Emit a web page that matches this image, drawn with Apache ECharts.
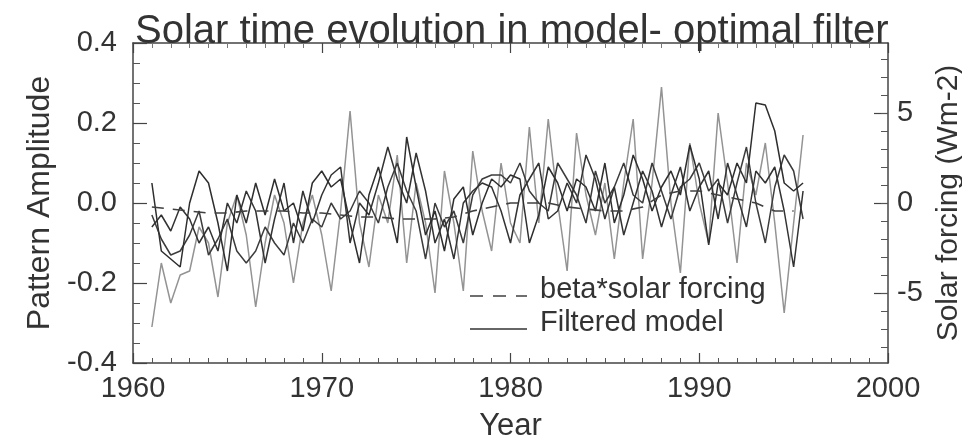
<!DOCTYPE html>
<html>
<head>
<meta charset="utf-8">
<script src="https://cdn.jsdelivr.net/npm/echarts@6/dist/echarts.min.js"></script>
<style>
  html, body { margin: 0; padding: 0; background: #fff; }
  #chart { width: 962px; height: 445px; }
</style>
</head>
<body>
<div id="chart"></div>
<script>
// Half-yearly time points, 1961.0 .. 1995.5
const times = Array.from({ length: 70 }, (_, i) => 1961 + i / 2);

// Filtered model runs (pattern amplitude)
const runGray = [
  -0.31, -0.15, -0.25, -0.18, -0.17, -0.06, -0.10, -0.235, -0.05, 0.02,
  -0.08, -0.26, -0.10, 0.02, -0.05, -0.20, -0.05, 0.02, -0.08, -0.22,
  -0.02, 0.23, -0.05, -0.16, 0.02, -0.05, 0.12, -0.15, 0.05, -0.05,
  -0.225, 0.08, -0.05, -0.22, 0.13, -0.02, -0.12, 0.10, -0.05, -0.10,
  0.19, -0.05, 0.21, 0.00, -0.17, 0.175, 0.02, -0.08, 0.05, -0.14,
  0.05, 0.21, -0.14, 0.05, 0.29, 0.00, -0.175, 0.15, 0.00, -0.10,
  0.225, 0.05, -0.15, 0.10, 0.02, 0.15, -0.05, -0.275, -0.05, 0.17
];
const runA = [
  0.05, -0.12, -0.14, -0.16, 0.00, 0.08, 0.05, -0.05, -0.17, 0.02,
  -0.05, 0.05, -0.03, 0.06, -0.02, 0.00, -0.07, 0.05, 0.08, 0.04,
  0.06, -0.05, -0.15, 0.02, 0.09, 0.00, -0.10, 0.165, 0.04, -0.08,
  -0.02, -0.12, 0.01, 0.04, -0.08, 0.00, 0.06, 0.04, 0.07, 0.06,
  -0.10, -0.03, 0.09, 0.05, -0.02, 0.06, 0.04, -0.02, 0.10, -0.05,
  0.02, 0.12, 0.06, -0.02, 0.04, 0.08, 0.02, 0.145, 0.06, -0.105,
  0.05, 0.02, 0.10, 0.05, 0.25, 0.245, 0.18, 0.05, 0.03, 0.05
];
const runB = [
  -0.06, -0.03, -0.07, -0.01, -0.04, -0.10, -0.06, -0.12, 0.00, -0.05,
  0.03, -0.02, -0.15, -0.04, 0.05, -0.10, 0.03, -0.05, 0.02, 0.07,
  0.09, -0.10, 0.00, -0.03, 0.05, 0.14, 0.06, 0.00, 0.125, 0.03,
  -0.10, -0.04, -0.14, 0.00, 0.03, 0.05, 0.04, -0.02, -0.10, 0.02,
  0.06, 0.10, -0.04, -0.02, 0.05, 0.00, 0.12, 0.06, -0.04, 0.04,
  -0.08, 0.00, 0.08, 0.03, -0.06, 0.02, 0.09, -0.02, 0.04, 0.08,
  -0.04, 0.10, 0.02, -0.06, 0.08, 0.05, 0.09, -0.02, -0.16, 0.03
];
const runC = [
  -0.03, -0.09, -0.13, -0.12, -0.08, -0.02, -0.13, -0.09, -0.04, -0.12,
  -0.15, -0.12, -0.06, -0.10, -0.13, -0.05, -0.10, -0.04, -0.06, 0.00,
  -0.04, -0.02, 0.03, 0.00, -0.05, 0.04, 0.10, 0.03, -0.02, -0.14,
  0.00, -0.06, -0.02, -0.10, 0.02, 0.06, 0.07, 0.07, 0.05, 0.10,
  0.03, 0.00, -0.02, 0.10, 0.06, 0.02, -0.05, 0.08, 0.00, 0.04,
  0.10, 0.02, 0.00, 0.10, 0.03, -0.04, 0.04, 0.06, 0.10, 0.03,
  0.06, -0.05, 0.05, 0.14, 0.00, -0.10, 0.04, 0.12, 0.08, -0.04
];

// beta * solar forcing, yearly
const solarYears = [
  1961, 1962, 1963, 1964, 1965, 1966, 1967, 1968, 1969, 1970,
  1971, 1972, 1973, 1974, 1975, 1976, 1977, 1978, 1979, 1980,
  1981, 1982, 1983, 1984, 1985, 1986, 1987, 1988, 1989, 1990,
  1991, 1992, 1993, 1994, 1995
];
const betaSolar = [
  -0.01, -0.015, -0.02, -0.025, -0.025, -0.02, -0.02, -0.02, -0.025, -0.025,
  -0.03, -0.035, -0.035, -0.04, -0.04, -0.04, -0.035, -0.02, -0.01, 0.00,
  0.00, 0.00, -0.01, -0.015, -0.02, -0.02, -0.01, 0.02, 0.03, 0.03,
  0.02, 0.01, 0.00, -0.02, -0.02
];

// Axis ticks
const yearTicks = [1960, 1970, 1980, 1990, 2000];
const ampTicks = [-0.4, -0.2, 0.0, 0.2, 0.4];
const forcingTicks = [-5, 0, 5];
const forcingMinorTicks = [-8, -7, -6, -5, -4, -3, -2, -1, 0, 1, 2, 3, 4, 5, 6, 7, 8];
// 5 Wm-2 corresponds to 0.225 in pattern amplitude
const forcingLimit = 0.4 / 0.225 * 5;

const ink = '#333';
const font = 'Liberation Sans, Arial, sans-serif';

const pair = (xs, ys) => xs.map((x, i) => [x, ys[i]]);

const chart = echarts.init(document.getElementById('chart'));

const solidSeries = (name, data, color) => ({
  name, type: 'line', data: pair(times, data),
  xAxisIndex: 0, yAxisIndex: 0,
  symbol: 'none', smooth: false,
  lineStyle: { color, width: 1.5 },
  z: 3
});

chart.setOption({
  animation: false,
  backgroundColor: '#fff',
  title: {
    text: 'Solar time evolution in model- optimal filter',
    left: 130, top: 7,
    textStyle: { fontFamily: font, fontSize: 40, fontWeight: 'normal', color: ink }
  },
  grid: { left: 133, right: 74, top: 43, bottom: 82, outerBoundsMode: 'none', containLabel: false },
  xAxis: [
    {
      type: 'value', position: 'bottom',
      min: yearTicks[0], max: yearTicks[yearTicks.length - 1], interval: 10,
      name: 'Year', nameLocation: 'middle', nameGap: 48,
      nameTextStyle: { fontFamily: font, fontSize: 31, color: ink },
      axisLine: { show: true, onZero: false, lineStyle: { color: '#444', width: 1.5 } },
      axisTick: { show: true, inside: true, length: 10, lineStyle: { color: '#444', width: 1.2 } },
      minorTick: { show: true, splitNumber: 10, length: 5, lineStyle: { color: '#555', width: 1 } },
      axisLabel: { fontFamily: font, fontSize: 29, color: ink, margin: 11,
                   formatter: v => String(v) },
      splitLine: { show: false }
    },
    {
      type: 'value', position: 'top',
      min: yearTicks[0], max: yearTicks[yearTicks.length - 1], interval: 10,
      axisLine: { show: true, onZero: false, lineStyle: { color: '#444', width: 1.5 } },
      axisTick: { show: true, inside: true, length: 10, lineStyle: { color: '#444', width: 1.2 } },
      minorTick: { show: true, splitNumber: 10, length: 5, lineStyle: { color: '#777', width: 1 } },
      axisLabel: { show: false },
      splitLine: { show: false }
    }
  ],
  yAxis: [
    {
      type: 'value', position: 'left',
      min: ampTicks[0], max: ampTicks[ampTicks.length - 1], interval: 0.2,
      name: 'Pattern Amplitude', nameLocation: 'middle', nameGap: 76, nameRotate: 90,
      nameTextStyle: { fontFamily: font, fontSize: 32, color: ink },
      axisLine: { show: true, onZero: false, lineStyle: { color: '#444', width: 1.5 } },
      axisTick: { show: true, inside: true, length: 14, lineStyle: { color: '#444', width: 1.2 } },
      minorTick: { show: true, splitNumber: 4, length: 7, lineStyle: { color: '#555', width: 1 } },
      axisLabel: { fontFamily: font, fontSize: 29, color: ink, margin: 16,
                   formatter: v => v.toFixed(1) },
      splitLine: { show: false }
    },
    {
      type: 'value', position: 'right',
      min: -forcingLimit, max: forcingLimit,
      name: 'Solar forcing (Wm-2)', nameLocation: 'middle', nameGap: 30, nameRotate: 90,
      nameTextStyle: { fontFamily: font, fontSize: 30, color: ink },
      axisLine: { show: true, onZero: false, lineStyle: { color: '#444', width: 1.5 } },
      axisTick: { show: true, inside: true, length: 14, customValues: forcingTicks,
                  lineStyle: { color: '#444', width: 1.2 } },
      axisLabel: { fontFamily: font, fontSize: 29, color: ink, margin: 9,
                   customValues: forcingTicks, formatter: v => String(v) },
      splitLine: { show: false }
    },
    {
      type: 'value', position: 'right',
      min: -forcingLimit, max: forcingLimit,
      axisLine: { show: false },
      axisTick: { show: true, inside: true, length: 7, customValues: forcingMinorTicks,
                  lineStyle: { color: '#555', width: 1 } },
      axisLabel: { show: false },
      splitLine: { show: false }
    }
  ],
  series: [
    solidSeries('Filtered model', runGray, '#939393'),
    solidSeries('Filtered model', runC, '#3c3c3c'),
    solidSeries('Filtered model', runB, '#333333'),
    solidSeries('Filtered model', runA, '#2e2e2e'),
    {
      name: 'beta*solar forcing', type: 'line',
      data: pair(solarYears, betaSolar),
      xAxisIndex: 0, yAxisIndex: 0,
      symbol: 'none',
      lineStyle: { color: '#404040', width: 1.6, type: [12, 9] },
      z: 4
    }
  ],
  graphic: [
    { type: 'line', shape: { x1: 470, y1: 296, x2: 527, y2: 296 },
      style: { stroke: '#404040', lineWidth: 1.6, lineDash: [13, 10] } },
    { type: 'text', left: 540, top: 275,
      style: { text: 'beta*solar forcing', font: '29px ' + font, fill: ink } },
    { type: 'line', shape: { x1: 470, y1: 329, x2: 527, y2: 329 },
      style: { stroke: '#333', lineWidth: 1.6 } },
    { type: 'text', left: 540, top: 308,
      style: { text: 'Filtered model', font: '29px ' + font, fill: ink } }
  ]
});
</script>
</body>
</html>
